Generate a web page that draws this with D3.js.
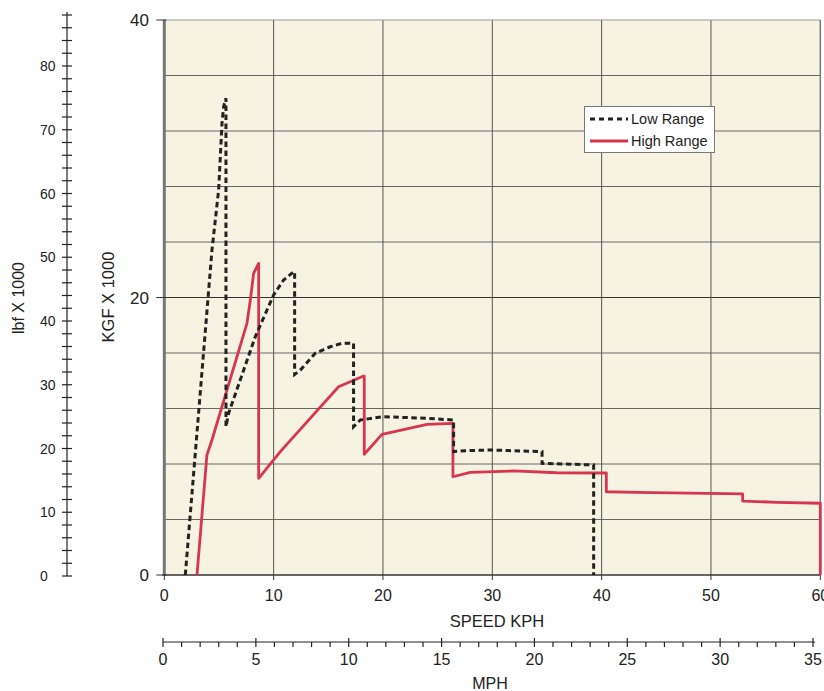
<!DOCTYPE html>
<html>
<head>
<meta charset="utf-8">
<script src="https://cdn.jsdelivr.net/npm/d3@7"></script>
<style>
  body { margin: 0; background: #fff; }
  svg text { font-family: "Liberation Sans", Arial, sans-serif; fill: #222; }
</style>
</head>
<body>
<svg id="chart" width="824" height="691"></svg>
<script>
// ---- Data ----
const lowRangeKph = [1.92, 4.36, 4.97, 5.28, 5.42, 5.64, 5.64, 5.88, 8.32, 10.0, 10.91, 11.83, 11.92, 11.92, 12.44, 13.81, 15.18, 16.25, 17.31, 17.31, 17.93, 20.06, 24.03, 26.46, 26.46, 27.53, 29.82, 34.55, 34.55, 39.27, 39.27];
const lowRangeKgf = [0, 23.42, 27.75, 32.58, 33.73, 34.36, 10.69, 11.65, 17.17, 20.18, 21.26, 21.86, 21.86, 14.46, 14.77, 15.98, 16.45, 16.70, 16.70, 10.69, 11.17, 11.41, 11.29, 11.17, 8.89, 8.96, 9.01, 8.89, 8.05, 7.93, 0];
const highRangeKph = [2.99, 3.9, 4.36, 7.56, 7.87, 8.17, 8.63, 8.63, 10.61, 15.94, 18.23, 18.29, 18.29, 19.91, 24.03, 26.4, 26.4, 27.99, 31.95, 35.92, 40.43, 40.43, 44.61, 52.9, 52.9, 56.04, 60.0, 60.0];
const highRangeKgf = [0, 8.65, 9.73, 18.14, 19.82, 21.74, 22.46, 6.97, 8.89, 13.57, 14.34, 14.34, 8.70, 10.14, 10.86, 10.93, 7.08, 7.39, 7.5, 7.37, 7.35, 6.0, 5.93, 5.84, 5.33, 5.24, 5.17, 0];
const kphTicks = [0, 10, 20, 30, 40, 50, 60];
const kgfTicks = [0, 20, 40];
const kgfGrid = [0, 4, 8, 12, 16, 20, 24, 28, 32, 36, 40];
const lbfTicks = [0, 10, 20, 30, 40, 50, 60, 70, 80];
const mphTicks = [0, 5, 10, 15, 20, 25, 30, 35];
const seriesNames = ["Low Range", "High Range"];

// ---- Scales ----
const svg = d3.select("#chart");
const x = d3.scaleLinear().domain([0, 60]).range([164.3, 820.3]);
const y = d3.scaleLinear().domain([0, 40]).range([575, 20]);
const lbf = d3.scaleLinear().domain([0, 80]).range([576, 66]);
const mph = d3.scaleLinear().domain([0, 35]).range([163, 813]);

// ---- Plot background ----
svg.append("rect")
  .attr("x", x(0)).attr("y", y(40))
  .attr("width", x(60) - x(0)).attr("height", y(0) - y(40))
  .attr("fill", "#f7f3e3");

// grid
svg.append("g").selectAll("line").data(kgfGrid.slice(1, -1)).join("line")
  .attr("x1", x(0)).attr("x2", x(60))
  .attr("y1", d => y(d)).attr("y2", d => y(d))
  .attr("stroke", d => d === 20 ? "#333" : "#666").attr("stroke-width", 1);
svg.append("g").selectAll("line").data(kphTicks.slice(1, -1)).join("line")
  .attr("y1", y(0)).attr("y2", y(40))
  .attr("x1", d => x(d)).attr("x2", d => x(d))
  .attr("stroke", "#555").attr("stroke-width", 1);

// frame
svg.append("line").attr("x1", x(0)).attr("x2", x(60)).attr("y1", y(40)).attr("y2", y(40))
  .attr("stroke", "#999").attr("stroke-width", 1);
svg.append("line").attr("x1", x(60)).attr("x2", x(60)).attr("y1", y(40)).attr("y2", y(0))
  .attr("stroke", "#777").attr("stroke-width", 1.5);
svg.append("line").attr("x1", x(0)).attr("x2", x(0)).attr("y1", y(40)).attr("y2", y(0))
  .attr("stroke", "#777").attr("stroke-width", 3);
svg.append("line").attr("x1", x(0) - 2).attr("x2", x(60)).attr("y1", y(0)).attr("y2", y(0))
  .attr("stroke", "#333").attr("stroke-width", 1.5);

// ---- KPH axis ----
const gx = svg.append("g");
gx.selectAll("line").data(kphTicks).join("line")
  .attr("x1", d => x(d)).attr("x2", d => x(d))
  .attr("y1", y(0)).attr("y2", y(0) + 5)
  .attr("stroke", "#333").attr("stroke-width", 1);
gx.selectAll("text").data(kphTicks).join("text")
  .attr("x", d => x(d)).attr("y", 601)
  .attr("text-anchor", "middle").attr("font-size", 16)
  .text(d => d);
svg.append("text").attr("x", 497).attr("y", 627).attr("text-anchor", "middle")
  .attr("font-size", 16.5).text("SPEED KPH");

// ---- KGF axis ----
const gy = svg.append("g");
gy.selectAll("line").data(kgfTicks).join("line")
  .attr("x1", x(0) - 8).attr("x2", x(0) + 2)
  .attr("y1", d => y(d)).attr("y2", d => y(d))
  .attr("stroke", "#333").attr("stroke-width", 1);
gy.selectAll("text").data(kgfTicks).join("text")
  .attr("x", 149).attr("y", d => y(d) + 6)
  .attr("text-anchor", "end").attr("font-size", 17)
  .text(d => d);
svg.append("text")
  .attr("transform", "translate(114,297) rotate(-90)")
  .attr("text-anchor", "middle").attr("font-size", 16.5).text("KGF X  1000");

// ---- lbf axis ----
const gl = svg.append("g");
gl.append("line").attr("x1", 67).attr("x2", 67).attr("y1", lbf(0)).attr("y2", 12)
  .attr("stroke", "#222").attr("stroke-width", 1.2);
gl.selectAll("line.t").data(d3.range(0, 89, 2)).join("line").attr("class", "t")
  .attr("x1", 62).attr("x2", 72)
  .attr("y1", d => lbf(d)).attr("y2", d => lbf(d))
  .attr("stroke", "#222").attr("stroke-width", 1.2);
gl.selectAll("text").data(lbfTicks).join("text")
  .attr("x", 40).attr("y", d => lbf(d) + 5)
  .attr("font-size", 14).text(d => d);
svg.append("text")
  .attr("transform", "translate(24,298) rotate(-90)")
  .attr("text-anchor", "middle").attr("font-size", 16).text("lbf X 1000");

// ---- MPH axis ----
const gm = svg.append("g");
const mphY = 642;
gm.append("line").attr("x1", mph(0)).attr("x2", mph(35) + 2).attr("y1", mphY).attr("y2", mphY)
  .attr("stroke", "#222").attr("stroke-width", 1.2);
gm.selectAll("line.minor").data(d3.range(0, 36)).join("line").attr("class", "minor")
  .attr("x1", d => mph(d)).attr("x2", d => mph(d))
  .attr("y1", d => d % 5 === 0 ? mphY - 4 : mphY).attr("y2", mphY + 5)
  .attr("stroke", "#222").attr("stroke-width", 1.2);
gm.selectAll("text").data(mphTicks).join("text")
  .attr("x", d => mph(d)).attr("y", 665)
  .attr("text-anchor", "middle").attr("font-size", 16).text(d => d);
svg.append("text").attr("x", 490).attr("y", 689).attr("text-anchor", "middle")
  .attr("font-size", 16).text("MPH");

// ---- Series ----
const line = d3.line().x(d => x(d[0])).y(d => y(d[1]));
const lowPts = lowRangeKph.map((v, i) => [v, lowRangeKgf[i]]);
const highPts = highRangeKph.map((v, i) => [v, highRangeKgf[i]]);

svg.append("path").datum(highPts).attr("d", line)
  .attr("fill", "none").attr("stroke", "#d8364d").attr("stroke-width", 2.8)
  .attr("stroke-linejoin", "round");
svg.append("path").datum(lowPts).attr("d", line)
  .attr("fill", "none").attr("stroke", "#222").attr("stroke-width", 3)
  .attr("stroke-dasharray", "5.5,3.5");

// ---- Legend ----
const lg = svg.append("g");
lg.append("rect").attr("x", 584.5).attr("y", 106.5).attr("width", 130).attr("height", 46)
  .attr("fill", "#fff").attr("stroke", "#777").attr("stroke-width", 1);
const legendStyles = [
  { stroke: "#222", dash: "5,4", w: 3 },
  { stroke: "#d8364d", dash: null, w: 2.8 }
];
seriesNames.forEach((name, i) => {
  const ly = 119 + i * 22;
  lg.append("line").attr("x1", 590).attr("x2", 628).attr("y1", ly).attr("y2", ly)
    .attr("stroke", legendStyles[i].stroke).attr("stroke-width", legendStyles[i].w)
    .attr("stroke-dasharray", legendStyles[i].dash);
  lg.append("text").attr("x", 631).attr("y", ly + 5).attr("font-size", 14.5).text(name);
});
</script>
</body>
</html>
